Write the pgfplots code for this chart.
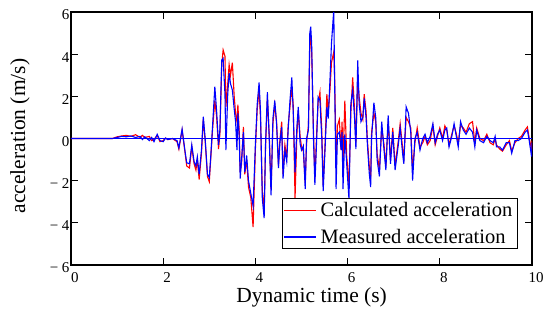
\documentclass[border=0pt]{standalone}
\usepackage{pgfplots}
\pgfplotsset{compat=1.18}
\usepackage{fontspec}
\setmainfont{Liberation Serif}
\begin{document}
\begin{tikzpicture}
\path[use as bounding box] (-71pt,-70pt) rectangle (474pt,265pt);
\begin{axis}[
  at={(0,0)}, anchor=south west,
  scale only axis, width=461pt, height=253pt,
  xmin=0, xmax=10, ymin=-6, ymax=6,
  axis line style={black, line width=1.1pt},
  tick style={black, line width=1pt},
  tick align=inside, major tick length=7pt,
  xtick={0,2,4,6,8,10}, xticklabels={0,2,4,6,8,10},
  ytick={-6,-4,-2,0,2,4,6}, yticklabels={− 6,− 4,− 2,0,2,4,6},
  tick label style={font=\fontsize{15}{16}\selectfont},
  xticklabel style={xshift=4pt, yshift=-6pt, inner ysep=1pt},
  yticklabel style={yshift=-3pt, xshift=2pt},
  xlabel={Dynamic time (s)},
  ylabel={acceleration (m/s)},
  label style={font=\fontsize{21.5}{24}\selectfont},
  xlabel style={at={(axis description cs:0.522,-0.127)}, anchor=center, inner ysep=1pt},
  ylabel style={at={(axis description cs:-0.111,0.51)}, anchor=center},
  legend style={at={(axis description cs:0.4577,0.265)}, anchor=north west,
    draw=black, line width=1pt, inner xsep=1pt, inner ysep=3pt,
    font=\fontsize{20.5}{22}\selectfont, row sep=9pt, cells={anchor=west},
    nodes={inner xsep=4pt, inner ysep=1pt}},
  legend image code/.code={\draw[#1, line width=1.1pt] (0pt,0pt) -- (32pt,0pt);},
]
\addplot[red, line width=1.1pt] coordinates {
(0,0) (0.9,0) (1.0,0.08) (1.1,0.12) (1.2,0.15) (1.3,0.1) (1.4,0.18) (1.5,0.05) (1.55,0.15) (1.6,0.05) (1.7,0.1) (1.75,-0.1) (1.8,-0.05) (1.87,0.15) (1.93,-0.15) (2.0,-0.1) (2.05,0.02) (2.1,-0.05) (2.2,0) (2.3,-0.15) (2.34,-0.5) (2.41,0.4) (2.47,-0.6) (2.51,-1.3) (2.57,-1.4) (2.62,-0.4) (2.67,-1.2) (2.71,-1.5) (2.74,-1.0) (2.78,-1.95) (2.83,-0.7) (2.87,0.9) (2.91,-0.1) (2.96,-1.8) (3.0,-2.05) (3.03,-1.0) (3.07,0.4) (3.12,1.8) (3.16,1.0) (3.2,-0.5) (3.23,0.2) (3.27,3.5) (3.3,4.2) (3.34,3.9) (3.36,1.5) (3.4,2.6) (3.43,3.5) (3.46,3.0) (3.5,3.6) (3.54,2.0) (3.57,1.2) (3.6,0.8) (3.62,1.6) (3.65,0.3) (3.67,-1.6) (3.7,-1.2) (3.74,0.55) (3.77,-1.7) (3.81,-1.0) (3.85,-2.3) (3.9,-2.8) (3.95,-4.2) (4.0,-0.5) (4.04,1.4) (4.08,2.3) (4.11,1.0) (4.15,-2.5) (4.19,-3.4) (4.22,-0.4) (4.26,1.9) (4.3,0.2) (4.34,-2.4) (4.38,0.7) (4.42,1.6) (4.46,0.8) (4.5,-1.3) (4.53,-0.1) (4.57,0.8) (4.6,-1.7) (4.64,-0.3) (4.68,-0.9) (4.71,0.6) (4.75,1.5) (4.79,2.4) (4.82,1.6) (4.86,-2.85) (4.9,0.2) (4.93,1.3) (4.97,0.1) (5.0,-0.4) (5.04,-0.6) (5.08,-2.1) (5.11,-0.2) (5.15,0.6) (5.18,4.4) (5.2,4.8) (5.22,4.2) (5.26,0.3) (5.29,-1.9) (5.33,0.3) (5.36,1.7) (5.4,2.2) (5.44,0.4) (5.47,-2.2) (5.51,-0.3) (5.55,2.1) (5.58,1.2) (5.62,2.4) (5.65,3.6) (5.7,4.1) (5.72,2.8) (5.75,-1.0) (5.78,0.6) (5.82,0.9) (5.86,-0.55) (5.88,0.8) (5.9,-1.2) (5.94,1.8) (5.98,-0.8) (6.03,-2.2) (6.07,1.2) (6.11,2.9) (6.15,1.4) (6.18,-0.2) (6.22,2.8) (6.25,2.0) (6.29,1.2) (6.33,0.9) (6.36,2.1) (6.4,1.3) (6.43,-0.1) (6.47,-1.3) (6.5,-1.9) (6.52,0.3) (6.57,1.2) (6.61,0.8) (6.64,-0.7) (6.69,-1.5) (6.74,0.5) (6.79,-0.3) (6.83,-1.3) (6.88,0.8) (6.93,-1.0) (6.98,0.5) (7.03,-1.3) (7.1,-0.1) (7.14,0.7) (7.2,-0.6) (7.22,-0.9) (7.27,1.0) (7.32,0.8) (7.37,0.5) (7.41,-1.5) (7.46,-0.2) (7.51,0.5) (7.57,-0.4) (7.63,-0.2) (7.68,0.1) (7.73,-0.3) (7.79,-0.1) (7.85,0.6) (7.9,-0.3) (7.95,0.1) (8.0,0.5) (8.06,0) (8.11,0.6) (8.15,0.4) (8.2,-0.3) (8.26,0.2) (8.31,0.6) (8.35,0.3) (8.4,-0.2) (8.45,0.6) (8.51,0.5) (8.57,0.3) (8.64,0.7) (8.71,0.8) (8.76,-0.2) (8.8,0.5) (8.87,0) (8.95,-0.1) (9.02,0.2) (9.09,-0.2) (9.16,-0.3) (9.2,0) (9.23,-0.3) (9.3,-0.5) (9.36,-0.6) (9.44,-0.3) (9.51,-0.1) (9.56,-0.6) (9.63,-0.2) (9.7,0) (9.77,0.1) (9.85,0.4) (9.9,0.55) (9.94,0) (9.99,-0.5) (10.0,-0.1)
};
\addlegendentry{Calculated acceleration}
\addplot[blue, line width=1.1pt] coordinates {
(0,0) (0.9,0) (1.0,0.05) (1.1,0.1) (1.2,0.08) (1.3,0.12) (1.4,0.05) (1.5,0.1) (1.55,-0.05) (1.6,0.08) (1.7,-0.1) (1.75,0.05) (1.8,-0.15) (1.87,0.2) (1.93,-0.1) (2.0,-0.15) (2.05,0.02) (2.1,-0.05) (2.2,0) (2.3,-0.1) (2.34,-0.45) (2.41,0.45) (2.47,-0.55) (2.51,-1.15) (2.57,-1.2) (2.62,-0.3) (2.67,-1.1) (2.71,-1.3) (2.74,-0.87) (2.78,-1.7) (2.83,-0.55) (2.87,1.03) (2.91,0.0) (2.96,-1.7) (3.0,-1.85) (3.03,-0.9) (3.07,0.56) (3.12,2.46) (3.16,1.26) (3.2,-0.3) (3.23,0.4) (3.27,3.72) (3.3,3.8) (3.34,2.1) (3.36,-0.55) (3.4,2.1) (3.43,3.1) (3.46,2.6) (3.5,2.3) (3.54,1.4) (3.57,0.8) (3.6,-0.55) (3.62,1.2) (3.65,0) (3.67,-1.9) (3.7,-1.0) (3.74,0.3) (3.77,-1.6) (3.81,-0.8) (3.85,-2.0) (3.9,-2.6) (3.95,-3.2) (4.0,-0.25) (4.04,1.65) (4.08,2.66) (4.11,1.3) (4.15,-2.85) (4.19,-3.78) (4.22,-0.25) (4.26,2.2) (4.3,0) (4.34,-2.7) (4.38,0.95) (4.42,1.8) (4.46,0.67) (4.5,-1.4) (4.53,-0.25) (4.57,0.55) (4.6,-1.9) (4.64,-0.55) (4.68,-1.1) (4.71,0.4) (4.75,1.8) (4.79,2.9) (4.82,1.3) (4.86,-1.6) (4.9,0.55) (4.93,1.5) (4.97,-0.25) (5.0,-0.55) (5.04,-0.35) (5.08,-2.4) (5.11,0) (5.15,0.4) (5.18,5.0) (5.2,5.3) (5.22,4.5) (5.26,0) (5.29,-2.2) (5.33,0) (5.36,1.97) (5.4,1.8) (5.44,0) (5.47,-2.5) (5.51,-0.55) (5.55,1.5) (5.58,0.95) (5.62,2.9) (5.65,4.5) (5.7,6.1) (5.72,2.5) (5.75,-2.4) (5.78,0.2) (5.82,0.3) (5.86,-0.55) (5.88,0.3) (5.9,-2.4) (5.94,0.2) (5.98,-1.2) (6.03,-2.9) (6.07,1.65) (6.11,2.3) (6.15,1.0) (6.18,-0.5) (6.22,3.7) (6.25,1.65) (6.29,0.8) (6.33,1.0) (6.36,1.9) (6.4,1.0) (6.43,-0.3) (6.47,-1.65) (6.5,-2.3) (6.52,0) (6.57,1.7) (6.61,1.0) (6.64,-1.0) (6.69,-1.8) (6.74,0.8) (6.79,-0.55) (6.83,-1.5) (6.88,1.1) (6.93,-1.2) (6.98,0.3) (7.03,-1.5) (7.1,-0.3) (7.14,0.5) (7.2,-0.86) (7.22,-1.2) (7.27,1.5) (7.32,1.2) (7.37,0.3) (7.41,-2.0) (7.46,0) (7.51,0.3) (7.57,-0.55) (7.63,0) (7.68,0.2) (7.73,-0.2) (7.79,0.1) (7.85,0.7) (7.9,-0.2) (7.95,0.2) (8.0,0.4) (8.06,-0.1) (8.11,0.4) (8.15,0.5) (8.2,-0.4) (8.26,0.1) (8.31,0.7) (8.35,0.2) (8.4,-0.4) (8.45,0.8) (8.51,0.4) (8.57,0.2) (8.64,0.5) (8.71,0.3) (8.76,-0.4) (8.8,0.4) (8.87,-0.1) (8.95,-0.2) (9.02,0.1) (9.09,-0.1) (9.16,-0.2) (9.2,0.1) (9.23,-0.4) (9.3,-0.4) (9.36,-0.55) (9.44,-0.2) (9.51,-0.2) (9.56,-0.7) (9.63,-0.1) (9.7,-0.1) (9.77,0) (9.85,0.3) (9.9,0.4) (9.94,-0.1) (9.99,-0.86) (10.0,-0.2)
};
\addlegendentry{Measured acceleration}
\addplot[blue, line width=1.1pt, forget plot] coordinates {(0,0) (10,0)};
\end{axis}
\end{tikzpicture}
\end{document}
